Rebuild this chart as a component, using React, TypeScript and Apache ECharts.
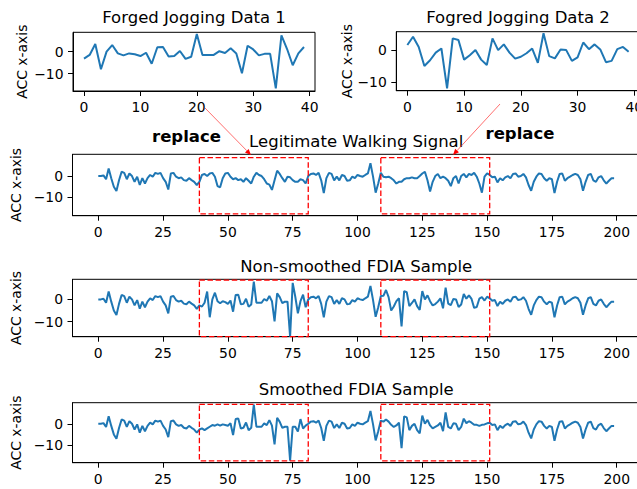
import React, { useEffect, useRef } from "react";
import * as echarts from "echarts";

const FONT = "DejaVu Sans";
const LINE_COLOR = "#1f77b4";

// ---- data ----
const jog1 = [
  -3.2, -1.5, 3.5, -8, 0, 3, -0.8, -1.7, -0.8, -1.2,
  -2, -0.5, -5.5, 2, 2.1, -2.2, -2, 0.3, -3.3, -2.3,
  8.0, -1.5, -1.5, -1.5, 0.2, -0.6, 1.5, -0.8, -9.8, 2.7,
  1, -1.7, -1, -1, -16.7, 7.4, 1.2, -6.2, -0.8, 2.1,
];

const jog2 = [
  1.6, 4.2, 1, -5, -3.2, -0.8, 0.5, -12.1, 3.7, 3.2,
  -3, -1.6, 0, -3, -4.7, 3.7, 0, 1.8, -0.8, -2.7,
  -2.1, -1, 0.5, -4, 5.3, -1.9, -2.6, 0.2, 0, -3.4,
  -2.3, 2.4, 0.3, 1.8, 0.2, -3.8, -3.4, 0.3, 1, -0.5,
];

const walking = [
  0, 0, 0.3, -1.5, 3.5, -1, -5, -7, -2, 2,
  1.5, -1.5, 1.2, 0, -2.7, -0.3, -4.2, -1, -3.5, -1,
  0.5, -0.3, 1.5, 1, 1.5, -1, -2.7, -6.3, 1.2, 1.5,
  -0.3, -1, -0.6, -1.9, -2.2, -1, -1.9, -2.7, -4.2, -2.7,
  0.5, 1, 0, 1.2, 1.5, -0.3, -4.7, -5.3, -1, 1.2,
  1.5, -0.3, -1.5, -1, -1.9, -1.5, -2.7, -1, -2.2, -3.5,
  -0.3, 1.5, 0.5, 0, -1.5, -3.5, -4, -6.5, -2, 2.5,
  1, -1, -2.7, -0.3, -0.6, -1.9, -2.7, -2.7, -1.5, -1.9,
  -3.5, 0, 1, 1.2, 0.5, 1.5, -2, -8, -1, 1.5,
  1, -2, -0.3, -2, 0.5, 0, -2.2, -2, -0.3, -1,
  0.5, 0, -0.3, 0.5, 1.2, 6, -0.3, -7.8, -3.5, 1.5,
  -0.3, -0.6, -0.3, -1, -2, -3.5, -2.7, -2.7, -1.5, -1,
  -1, -0.6, -1, -1, 0, 1.2, 2, -2, -7.3, -2.7,
  0, 1, -1, -0.3, -1, -2.2, -4.7, -1, 0, -3.5,
  0, 1, -0.6, 1, 0.5, 1.5, -0.3, -3.5, -7.8, -0.3,
  1.2, 0.5, -0.6, -0.3, -3, -1, -2, -0.6, 0, -1,
  1, 1.2, -0.3, 0, 1, -0.6, -4.2, -6.9, -2.7, -0.3,
  1.2, 1, -1, -2.2, -1, -1.5, -8, -2.7, 1, 1.2,
  -2.2, -1, -0.3, 0.5, 1, 0.5, -1.5, -6.9, -2.7, 0.5,
  1, -2, -2.7, -0.6, 0, -2, -3.5, -2.2, -1, -1,
];

// smoothed FDIA values inside the two replaced windows
const smoothSeg1Start = 40;
const smoothSeg1 = [
  -2.2, -3, -2.2, -1.4, -0.6, -0.9, -0.3, -0.9, -0.3, -0.6,
  -0.9, 0.2, -5.3, 2.2, 2.5, -2.2, -1.9, 0.6, -3, -1.9,
  9.0, -1.4, -1.4, -1.4, 0.2, -0.6, 1.7, -0.9, -9.7, 2.8,
  0.9, -1.9, -1.4, -1.4, -17.3, -1.4, -1.4, -3.7, 2.2, -2.2,
  -0.9,
];
const smoothSeg2Start = 110;
const smoothSeg2 = [
  1.0, 2.0, 1.0, -0.5, -1.5, -0.8, 0.5, -11.5, 3.5, 3.0,
  -3.0, -1.0, 0, -3.0, -4.5, 3.8, 0, 1.8, -0.8, -2.2,
  -1.5, -0.8, 0.5, -3.5, 5.3, -1.5, -2.2, 0.2, 0, -3.0,
  -1.5, 2.4, 0.3, 1.2, 0.5, -0.5, -0.5, -1.0, -0.5, -0.3,
  0.2,
];

const replaceStart1 = 40;
const replaceStart2 = 110;
const jogTicks = [0, 10, 20, 30, 40];
const wideTicks = [0, 25, 50, 75, 100, 125, 150, 175, 200];
const yTicks = [-10, 0];
const windowRanges = [
  [39, 81],
  [109, 151],
];

const titles = [
  "Forged Jogging Data 1",
  "Fogred Jogging Data 2",
  "Legitimate Walking Signal",
  "Non-smoothed FDIA Sample",
  "Smoothed FDIA Sample",
];

// series assembled from the arrays above
const nonSmoothed = walking.map((v, i) => {
  if (i >= replaceStart1 && i < replaceStart1 + jog1.length) return jog1[i - replaceStart1];
  if (i >= replaceStart2 && i < replaceStart2 + jog2.length) return jog2[i - replaceStart2];
  return v;
});
const smoothed = walking.map((v, i) => {
  if (i >= smoothSeg1Start && i < smoothSeg1Start + smoothSeg1.length) return smoothSeg1[i - smoothSeg1Start];
  if (i >= smoothSeg2Start && i < smoothSeg2Start + smoothSeg2.length) return smoothSeg2[i - smoothSeg2Start];
  return v;
});

// ---- layout (pixels) ----
const panels = [
  { data: jog1, left: 73, top: 32.3, width: 242, height: 58.7, xmin: -1.95, xmax: 40.95, ymin: -17.9, ymax: 8.8, ticks: jogTicks, nameGap: 44, titleY: 23, box: null as null | number[] },
  { data: jog2, left: 396.3, top: 31.7, width: 243.4, height: 59, xmin: -1.95, xmax: 40.95, ymin: -12.8, ymax: 5.8, ticks: jogTicks, nameGap: 41, titleY: 23, box: null },
  { data: walking, left: 72.5, top: 154.3, width: 567.4, height: 61.4, xmin: -9.95, xmax: 208.95, ymin: -18.6, ymax: 10.2, ticks: wideTicks, nameGap: 44, titleY: 147, box: [8.6, -17.7] },
  { data: nonSmoothed, left: 72.5, top: 279.3, width: 567.4, height: 57.4, xmin: -9.95, xmax: 208.95, ymin: -16.7, ymax: 9.0, ticks: wideTicks, nameGap: 44, titleY: 272, box: [8.6, -16.7] },
  { data: smoothed, left: 72.5, top: 402.7, width: 567.4, height: 60, xmin: -9.95, xmax: 208.95, ymin: -18.3, ymax: 9.9, ticks: wideTicks, nameGap: 44, titleY: 395, box: [9.1, -17.4] },
];

const fmt = (v: number) => (v < 0 ? "\u2212" + Math.abs(v) : String(v));

function arrow(x1: number, y1: number, x2: number, y2: number) {
  const dx = x2 - x1;
  const dy = y2 - y1;
  const len = Math.sqrt(dx * dx + dy * dy);
  const ux = dx / len;
  const uy = dy / len;
  const hl = 6;
  const hw = 2.6;
  const bx = x2 - ux * hl;
  const by = y2 - uy * hl;
  return [
    { type: "line", shape: { x1, y1, x2: bx, y2: by }, style: { stroke: "#ff3030", lineWidth: 0.7 }, silent: true },
    {
      type: "polygon",
      shape: { points: [[x2, y2], [bx - uy * hw, by + ux * hw], [bx + uy * hw, by - ux * hw]] },
      style: { fill: "#ff0000" },
      silent: true,
    },
  ];
}

export default function App() {
  const ref = useRef<HTMLDivElement>(null);
  useEffect(() => {
    if (!ref.current) return;
    const chart = echarts.init(ref.current, undefined, { renderer: "svg" });
    const grid = panels.map((p) => ({
      left: p.left,
      top: p.top,
      width: p.width,
      height: p.height,
      show: true,
      borderColor: "#000",
      borderWidth: 1,
      backgroundColor: "rgba(0,0,0,0)",
      containLabel: false,
      outerBoundsMode: "none",
    }));
    const xAxis = panels.map((p, i) => ({
      type: "value",
      gridIndex: i,
      min: p.xmin,
      max: p.xmax,
      axisLine: { show: true, onZero: false, lineStyle: { color: "#000", width: 1 } },
      axisTick: { show: true, inside: false, length: 5, lineStyle: { color: "#000", width: 1 }, customValues: p.ticks },
      axisLabel: { customValues: p.ticks, margin: 9, fontSize: 13.9, color: "#000", fontFamily: FONT, formatter: fmt, hideOverlap: false },
      splitLine: { show: false },
    }));
    const yAxis = panels.map((p, i) => ({
      type: "value",
      gridIndex: i,
      min: p.ymin,
      max: p.ymax,
      name: "ACC x-axis",
      nameLocation: "middle",
      nameGap: p.nameGap,
      nameRotate: 90,
      nameTextStyle: { fontSize: 13.9, color: "#000", fontFamily: FONT },
      axisLine: { show: true, onZero: false, lineStyle: { color: "#000", width: 1 } },
      axisTick: { show: true, inside: false, length: 5, lineStyle: { color: "#000", width: 1 }, customValues: yTicks },
      axisLabel: { customValues: yTicks, margin: 9.5, fontSize: 13.9, color: "#000", fontFamily: FONT, formatter: fmt },
      splitLine: { show: false },
    }));
    const series = panels.map((p, i) => ({
      type: "line",
      xAxisIndex: i,
      yAxisIndex: i,
      data: p.data.map((v, k) => [k, v]),
      showSymbol: false,
      symbol: "none",
      clip: true,
      lineStyle: { color: LINE_COLOR, width: 2 },
      itemStyle: { color: LINE_COLOR },
      z: 3,
      markArea: p.box
        ? {
            silent: true,
            z: 4,
            itemStyle: { color: "rgba(0,0,0,0)", borderColor: "#ff0000", borderWidth: 1.3, borderType: [5.5, 2.6] },
            data: windowRanges.map((r) => [{ coord: [r[0], p.box![0]] }, { coord: [r[1], p.box![1]] }]),
          }
        : undefined,
    }));
    const graphic: any[] = panels.map((p, i) => ({
      type: "text",
      x: p.left + p.width / 2,
      y: p.titleY - 5.7,
      silent: true,
      style: { text: titles[i], fontSize: 16.5, fontFamily: FONT, fill: "#000", align: "center", verticalAlign: "middle" },
    }));
    graphic.push(
      { type: "text", x: 186.5, y: 136, silent: true, style: { text: "replace", fontSize: 16.5, fontWeight: "bold", fontFamily: FONT, fill: "#000", align: "center", verticalAlign: "middle" } },
      { type: "text", x: 520, y: 133, silent: true, style: { text: "replace", fontSize: 16.5, fontWeight: "bold", fontFamily: FONT, fill: "#000", align: "center", verticalAlign: "middle" } },
      ...arrow(205, 108, 251, 155),
      ...arrow(500, 104, 453, 155)
    );
    chart.setOption({
      animation: false,
      backgroundColor: "#fff",
      grid,
      xAxis,
      yAxis,
      series,
      graphic,
    });
    return () => chart.dispose();
  }, []);
  return (
    <div
      ref={ref}
      style={{ position: "absolute", left: 0, top: 0, width: 637, height: 489, overflow: "hidden" }}
    />
  );
}
